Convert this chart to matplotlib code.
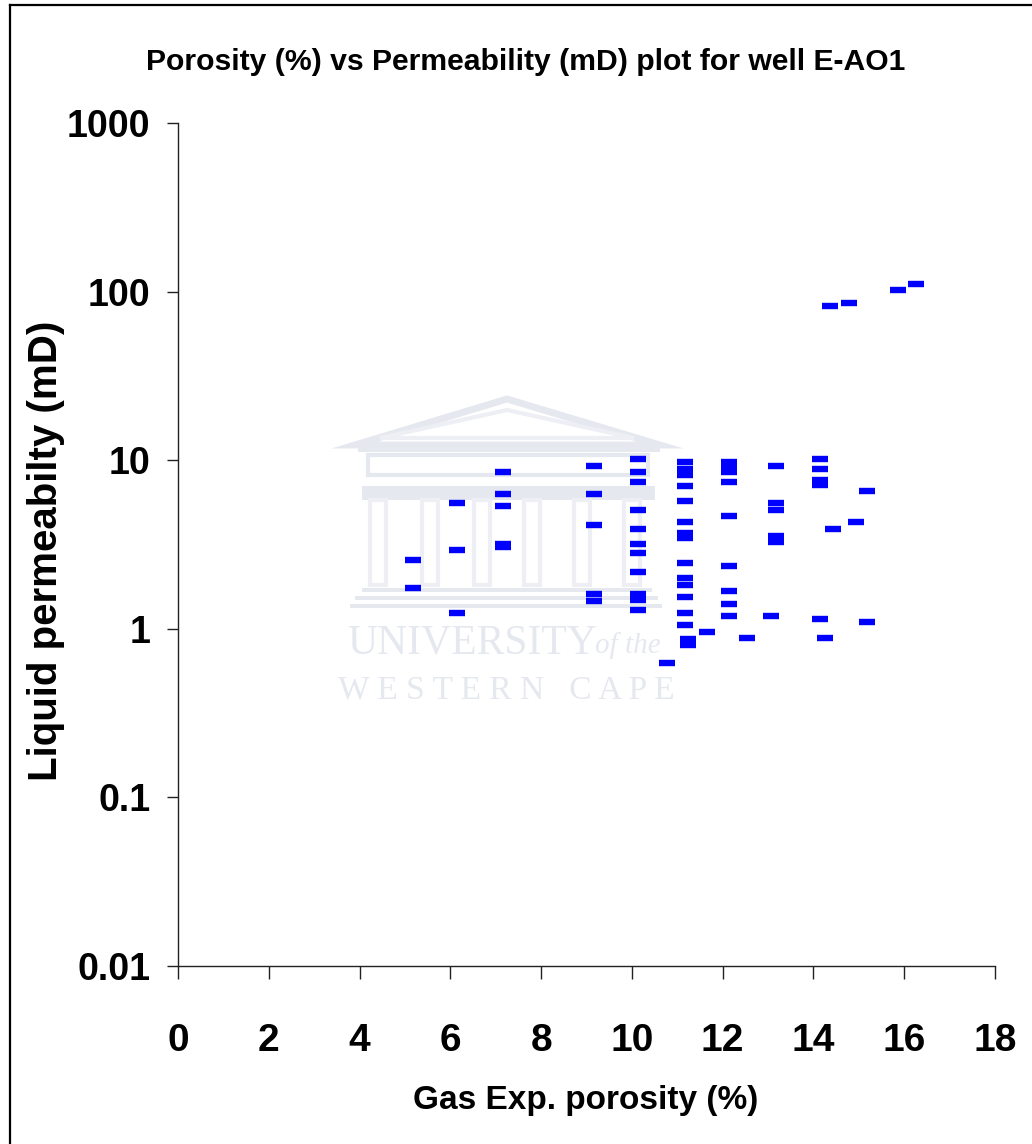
import matplotlib
matplotlib.use("Agg")
import matplotlib.pyplot as plt
from matplotlib.patches import Polygon, Rectangle
from matplotlib.lines import Line2D

# ---- data ----
porosity = [5.18, 5.18,
            6.15, 6.15, 6.15,
            7.16, 7.16, 7.16, 7.16, 7.16,
            9.16, 9.16, 9.16, 9.16, 9.16,
            10.13, 10.13, 10.13, 10.13, 10.13, 10.13, 10.13, 10.13, 10.13, 10.13, 10.13,
            11.17, 11.17, 11.17, 11.17, 11.17, 11.17, 11.17, 11.17, 11.17, 11.17, 11.17, 11.17, 11.17, 11.17,
            11.23, 11.23,
            11.65,
            10.77,
            12.14, 12.14, 12.14, 12.14, 12.14, 12.14, 12.14, 12.14, 12.14,
            12.53,
            13.06,
            13.17, 13.17, 13.17, 13.17, 13.17,
            14.14, 14.14, 14.14, 14.14, 14.14,
            14.25,
            14.43,
            14.93,
            15.18, 15.18,
            14.36, 14.78, 15.86, 16.26]
permeability = [2.56, 1.75,
                5.57, 2.93, 1.24,
                8.5, 6.3, 5.35, 3.18, 3.06,
                9.25, 6.3, 4.13, 1.61, 1.46,
                10.2, 8.5, 7.43, 5.07, 3.91, 3.18, 2.82, 2.17, 1.61, 1.48, 1.29,
                9.75, 8.87, 8.17, 7.03, 5.73, 4.30, 3.70, 3.46, 2.46, 2.00, 1.82, 1.54, 1.24, 1.05,
                0.87, 0.80,
                0.96,
                0.626,
                9.7, 9.1, 8.5, 7.43, 4.67, 2.36, 1.67, 1.40, 1.19,
                0.88,
                1.19,
                9.25, 5.57, 5.1, 3.55, 3.25,
                10.2, 8.87, 7.6, 7.1, 1.14,
                0.88,
                3.93,
                4.3,
                6.56, 1.10,
                82, 85.5, 102, 111]

x_ticks = [0, 2, 4, 6, 8, 10, 12, 14, 16, 18]
y_ticks = [0.01, 0.1, 1, 10, 100, 1000]
y_tick_labels = ["0.01", "0.1", "1", "10", "100", "1000"]

title = "Porosity (%) vs Permeability (mD) plot for well E-AO1"
x_label = "Gas Exp. porosity (%)"
y_label = "Liquid permeabilty (mD)"

FONT = ["Liberation Sans", "DejaVu Sans"]
SERIF = ["Liberation Serif", "DejaVu Serif"]

W, H = 1032, 1144
fig = plt.figure(figsize=(W / 100, H / 100), dpi=100)
fig.patch.set_facecolor("white")


def fx(px):
    return px / W


def fy(py):
    return 1 - py / H


# ---- faint watermark (decoration) ----
wm = "#E6E8F0"
wm2 = "#EDEFF5"
fig.patches.append(Polygon([(fx(355), fy(445)), (fx(507), fy(399)), (fx(660), fy(445))],
                           closed=True, fill=False, edgecolor=wm, lw=5,
                           transform=fig.transFigure, zorder=-2))
fig.patches.append(Polygon([(fx(380), fy(438)), (fx(507), fy(410)), (fx(634), fy(438))],
                           closed=True, fill=False, edgecolor=wm2, lw=3,
                           transform=fig.transFigure, zorder=-2))
fig.patches.append(Rectangle((fx(358), fy(452)), fx(660 - 358), 6 / H, facecolor=wm,
                             edgecolor="none", transform=fig.transFigure, zorder=-2))
fig.patches.append(Rectangle((fx(368), fy(475)), fx(648 - 368), 20 / H, facecolor="none",
                             edgecolor=wm, lw=3, transform=fig.transFigure, zorder=-2))
fig.patches.append(Rectangle((fx(362), fy(500)), fx(655 - 362), 14 / H, facecolor=wm,
                             edgecolor="none", transform=fig.transFigure, zorder=-2))
for cx in [378, 430, 482, 532, 582, 632]:
    fig.patches.append(Rectangle((fx(cx - 8), fy(585)), fx(16), 85 / H, facecolor="none",
                                 edgecolor=wm2, lw=3, transform=fig.transFigure, zorder=-2))
for (x0, x1, yy) in [(362, 652, 592), (355, 658, 600), (350, 662, 608)]:
    fig.patches.append(Rectangle((fx(x0), fy(yy)), fx(x1 - x0), 4 / H, facecolor=wm,
                                 edgecolor="none", transform=fig.transFigure, zorder=-2))
fig.text(fx(472), fy(643), "UNIVERSITY", family=SERIF,
         fontsize=30, color=wm, ha="center", va="center", zorder=-2)
fig.text(fx(628), fy(646), "of the", family=SERIF,
         fontsize=21, style="italic", color=wm, ha="center", va="center", zorder=-2)
fig.text(fx(506), fy(690), "W E S T E R N   C A P E", family=SERIF,
         fontsize=24, color=wm, ha="center", va="center", zorder=-2)

# ---- figure frame lines (left and top) ----
fig.lines.append(Line2D([fx(9.5), fx(9.5)], [0, fy(5)], color="black", lw=1.6,
                        transform=fig.transFigure))
fig.lines.append(Line2D([fx(9.5), 1], [fy(5), fy(5)], color="black", lw=1.6,
                        transform=fig.transFigure))

# ---- axes ----
L, R, T, B = 178, 995, 123, 966
ax = fig.add_axes([fx(L), fy(B), fx(R - L), (B - T) / H])
ax.set_facecolor("none")
ax.set_yscale("log")
ax.set_xlim(0, 18)
ax.set_ylim(0.01, 1000)

ax.plot(porosity, permeability, linestyle="none", marker="_", markersize=11.5,
        markeredgewidth=4.6, color="#0000FF", zorder=3)

for s in ["top", "right"]:
    ax.spines[s].set_visible(False)
for s in ["left", "bottom"]:
    ax.spines[s].set_color("#222222")
    ax.spines[s].set_linewidth(1.0)

ax.set_xticks(x_ticks)
ax.set_xticklabels([str(t) for t in x_ticks], family=FONT, fontweight="bold", fontsize=28)
ax.set_yticks(y_ticks)
ax.set_yticklabels(y_tick_labels, family=FONT, fontweight="bold", fontsize=27)
ax.yaxis.set_minor_locator(matplotlib.ticker.NullLocator())
ax.tick_params(axis="x", direction="out", length=9, width=1, color="#222222", pad=32)
ax.tick_params(axis="y", direction="out", length=8, width=1, color="#222222", pad=12)

fig.text(fx(526), fy(62), title, family=FONT, fontweight="bold", fontsize=21.7,
         ha="center", va="center")
fig.text(fx(586), fy(1100), x_label, family=FONT, fontweight="bold", fontsize=24,
         ha="center", va="center")
fig.text(fx(46), fy(551), y_label, family=FONT, fontweight="bold", fontsize=29,
         rotation=90, ha="center", va="center")

fig.savefig("out.png", dpi=100, facecolor="white")
